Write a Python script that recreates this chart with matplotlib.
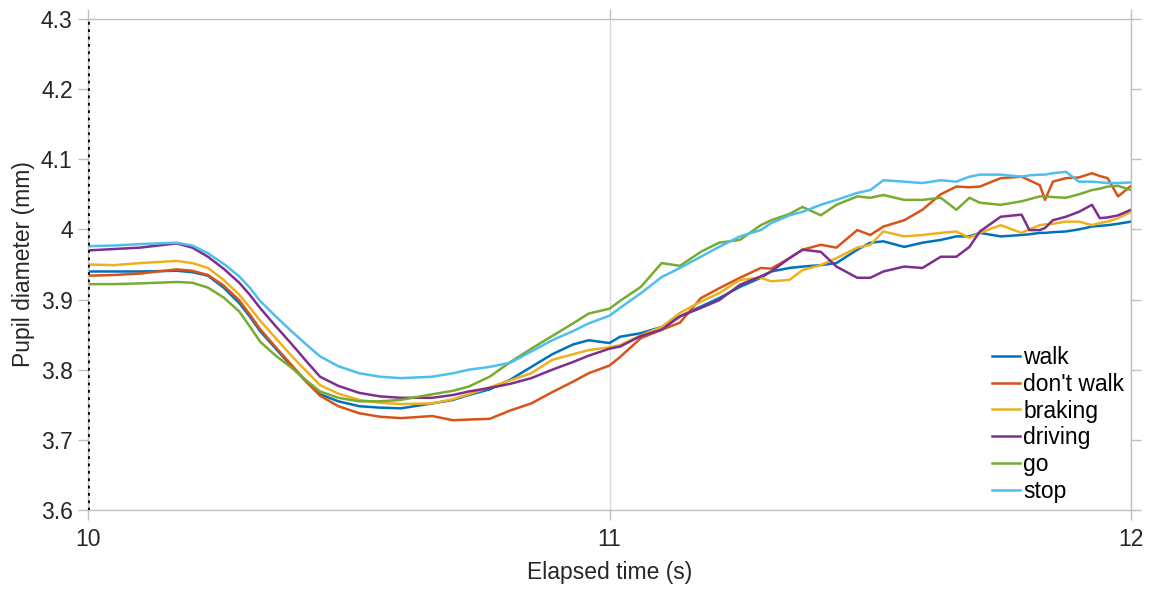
import numpy as np
import matplotlib.pyplot as plt

plt.rcParams["font.family"] = ["Liberation Sans", "DejaVu Sans"]

# Mean pupil diameter per condition, sampled over the 10-12 s window
time_s = [10.00, 10.05, 10.10, 10.17, 10.20, 10.23, 10.26, 10.29, 10.31, 10.33,
          10.36, 10.39, 10.42, 10.445, 10.48, 10.52, 10.56, 10.60, 10.66, 10.70,
          10.73, 10.77, 10.81, 10.85, 10.89, 10.93, 10.96, 11.00, 11.02, 11.06,
          11.10, 11.135, 11.175, 11.21, 11.25, 11.29, 11.31, 11.345, 11.37, 11.405,
          11.435, 11.475, 11.50, 11.525, 11.565, 11.60, 11.635, 11.665, 11.69, 11.71,
          11.75, 11.79, 11.805, 11.825, 11.835, 11.85, 11.875, 11.90, 11.925, 11.94,
          11.955, 11.975, 12.00]

walk = [3.940, 3.940, 3.940, 3.941, 3.939, 3.934, 3.917, 3.895, 3.876, 3.855,
        3.830, 3.805, 3.782, 3.765, 3.755, 3.748, 3.746, 3.745, 3.752, 3.757,
        3.764, 3.772, 3.786, 3.804, 3.822, 3.836, 3.842, 3.838, 3.847, 3.852,
        3.861, 3.876, 3.890, 3.902, 3.918, 3.931, 3.940, 3.945, 3.947, 3.949,
        3.952, 3.971, 3.981, 3.983, 3.975, 3.981, 3.985, 3.990, 3.990, 3.995,
        3.990, 3.992, 3.993, 3.995, 3.995, 3.996, 3.997, 4.000, 4.004, 4.005,
        4.006, 4.008, 4.011]

dont_walk = [3.934, 3.935, 3.937, 3.943, 3.941, 3.935, 3.920, 3.899, 3.879, 3.858,
             3.832, 3.807, 3.782, 3.763, 3.748, 3.738, 3.733, 3.731, 3.734, 3.728,
             3.729, 3.730, 3.742, 3.752, 3.768, 3.783, 3.795, 3.806, 3.818, 3.845,
             3.857, 3.867, 3.902, 3.916, 3.931, 3.945, 3.944, 3.959, 3.971, 3.978,
             3.974, 3.999, 3.992, 4.004, 4.013, 4.028, 4.050, 4.061, 4.060, 4.061,
             4.073, 4.075, 4.070, 4.063, 4.042, 4.068, 4.073, 4.074, 4.080, 4.076,
             4.073, 4.047, 4.062]

braking = [3.950, 3.949, 3.952, 3.955, 3.952, 3.945, 3.928, 3.907, 3.889, 3.870,
           3.845, 3.820, 3.797, 3.778, 3.766, 3.757, 3.753, 3.751, 3.752, 3.758,
           3.765, 3.775, 3.785, 3.795, 3.814, 3.822, 3.828, 3.832, 3.835, 3.849,
           3.861, 3.881, 3.897, 3.909, 3.928, 3.931, 3.926, 3.928, 3.942, 3.949,
           3.959, 3.974, 3.978, 3.997, 3.990, 3.992, 3.995, 3.997, 3.988, 3.995,
           4.006, 3.995, 4.000, 4.006, 4.007, 4.008, 4.011, 4.011, 4.006, 4.009,
           4.011, 4.016, 4.025]

driving = [3.970, 3.972, 3.974, 3.980, 3.974, 3.961, 3.944, 3.924, 3.907, 3.888,
           3.862, 3.837, 3.811, 3.790, 3.777, 3.767, 3.762, 3.760, 3.760, 3.764,
           3.769, 3.774, 3.780, 3.788, 3.800, 3.811, 3.820, 3.830, 3.833, 3.848,
           3.857, 3.876, 3.888, 3.899, 3.921, 3.933, 3.940, 3.959, 3.971, 3.968,
           3.947, 3.931, 3.931, 3.940, 3.947, 3.945, 3.961, 3.961, 3.975, 3.997,
           4.018, 4.021, 3.999, 3.999, 4.002, 4.013, 4.018, 4.025, 4.035, 4.016,
           4.017, 4.020, 4.028]

go = [3.922, 3.922, 3.923, 3.925, 3.924, 3.917, 3.903, 3.883, 3.862, 3.840,
      3.820, 3.803, 3.784, 3.769, 3.760, 3.755, 3.755, 3.757, 3.765, 3.770,
      3.776, 3.790, 3.811, 3.830, 3.848, 3.866, 3.880, 3.887, 3.898, 3.918,
      3.952, 3.948, 3.968, 3.981, 3.985, 4.006, 4.013, 4.022, 4.032, 4.020,
      4.035, 4.047, 4.045, 4.049, 4.042, 4.042, 4.045, 4.028, 4.045, 4.038,
      4.035, 4.040, 4.043, 4.047, 4.047, 4.046, 4.045, 4.050, 4.056, 4.058,
      4.061, 4.062, 4.056]

stop = [3.976, 3.977, 3.979, 3.981, 3.977, 3.966, 3.951, 3.933, 3.917, 3.898,
        3.876, 3.855, 3.835, 3.819, 3.805, 3.795, 3.790, 3.788, 3.790, 3.795,
        3.800, 3.804, 3.810, 3.826, 3.842, 3.855, 3.866, 3.877, 3.888, 3.909,
        3.932, 3.945, 3.961, 3.975, 3.990, 3.999, 4.009, 4.020, 4.025, 4.035,
        4.042, 4.052, 4.056, 4.070, 4.068, 4.066, 4.070, 4.068, 4.075, 4.078,
        4.078, 4.075, 4.077, 4.078, 4.078, 4.080, 4.082, 4.068, 4.068, 4.067,
        4.066, 4.066, 4.067]

labels = ["walk", "don't walk", "braking", "driving", "go", "stop"]
series = [walk, dont_walk, braking, driving, go, stop]
colors = ["#0072BD", "#D95319", "#EDB120", "#7E2F8E", "#77AC30", "#4DBEEE"]

fig = plt.figure(figsize=(11.53, 5.89), dpi=100)
ax = fig.add_axes([0.0763, 0.134, 0.9047, 0.834])

for y, lab, c in zip(series, labels, colors):
    ax.plot(time_s, y, color=c, linewidth=1.8, label=lab)

# dotted marker at the start of the window
ax.axvline(10, color="black", linestyle=":", linewidth=2, zorder=5)

ax.set_xlim(10, 12)
ax.set_ylim(3.6, 4.3)
ax.set_xticks([10, 11, 12])
ax.set_yticks(np.arange(3.6, 4.31, 0.1))
ax.set_yticklabels(["3.6", "3.7", "3.8", "3.9", "4", "4.1", "4.2", "4.3"])
ax.grid(axis="x", color="#d9d9d9", linewidth=1)

for side in ["top", "bottom", "right", "left"]:
    ax.spines[side].set_color("#bfbfbf")
    ax.spines[side].set_linewidth(1)

ax.tick_params(direction="out", length=7, width=1, color="#bfbfbf",
               labelsize=16.5, labelcolor="#262626",
               top=True, right=True)
ax.tick_params(axis="x", pad=6)
ax.tick_params(axis="y", pad=4)

ax.set_xlabel("Elapsed time (s)", fontsize=16.5, color="#262626", labelpad=7)
ax.set_ylabel("Pupil diameter (mm)", fontsize=16.5, color="#262626", labelpad=4)

ax.legend(loc="lower right", frameon=False, fontsize=16.5, handlelength=1.2,
          handletextpad=0.15, labelspacing=0.17, borderaxespad=0.0,
          borderpad=0.3)

fig.savefig("out.png", dpi=100)
